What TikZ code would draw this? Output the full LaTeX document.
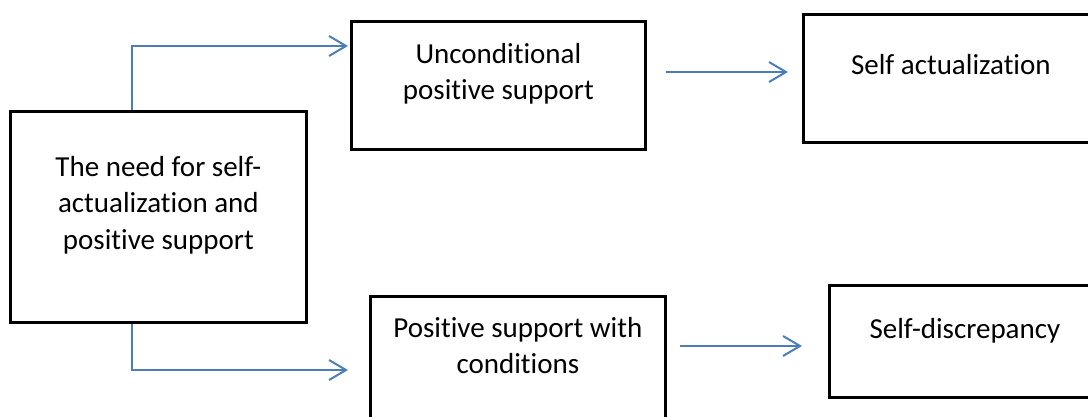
\documentclass[tikz,border=0pt]{standalone}
\usepackage{fontspec}
\setmainfont{Carlito}[Ligatures={NoCommon}]
\usetikzlibrary{arrows.meta}
\definecolor{arrowblue}{RGB}{74,126,187}
\begin{document}
\begin{tikzpicture}[x=1pt,y=-1pt,
  box/.style={draw=black, line width=2.8pt, rectangle, inner sep=0pt, anchor=north west},
  txt/.style={font=\fontsize{29}{36.5}\selectfont, align=center, inner sep=0pt, anchor=north},
  arr/.style={draw=arrowblue, line width=2pt, -{Straight Barb[length=17pt,width=20pt]}}]
\useasboundingbox (0,0) rectangle (1088,416);
\clip (0,0) rectangle (1088,416);
\node[box, minimum width=296pt, minimum height=211pt,
  label={[txt, yshift=-46pt]north:The need for self-\\actualization and\\positive support}] (need) at (9,110) {};
\node[box, minimum width=294pt, minimum height=128pt,
  label={[txt, yshift=-23pt]north:Unconditional\\positive support}] (uncond) at (350,20) {};
\node[box, minimum width=295pt, minimum height=128pt,
  label={[txt, yshift=-41pt]north:Self actualization}] (selfact) at (802,13) {};
\node[box, minimum width=295pt, minimum height=140pt,
  label={[txt, yshift=-22pt]north:Positive support with\\conditions}] (cond) at (369,295) {};
\node[box, minimum width=271pt, minimum height=112pt,
  label={[txt, yshift=-34pt]north:Self-discrepancy}] (discrep) at (828,284) {};
\draw[arr] ([xshift=123pt]need.north west) |- ([xshift=-2pt,yshift=-26pt]uncond.north west);
\draw[arr] ([xshift=123pt]need.south west) |- ([xshift=-21pt,yshift=-75pt]cond.north west);
\draw[arr] ([xshift=19pt,yshift=-52pt]uncond.north east) -- ([xshift=-14pt,yshift=-59pt]selfact.north west);
\draw[arr] ([xshift=13pt,yshift=-51pt]cond.north east) -- ([xshift=-26pt,yshift=-62pt]discrep.north west);
\end{tikzpicture}
\end{document}
